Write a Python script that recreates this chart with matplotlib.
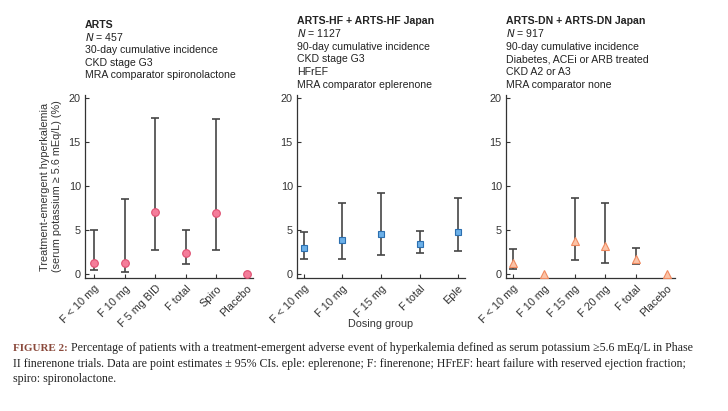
import matplotlib.pyplot as plt
import numpy as np

plt.rcParams['font.family'] = ['Liberation Sans', 'DejaVu Sans']

# ARTS
arts_labels = ['F < 10 mg', 'F 10 mg', 'F 5 mg BID', 'F total', 'Spiro', 'Placebo']
arts_val = [1.3, 1.3, 7.05, 2.45, 7.0, 0.05]
arts_lo = [0.45, 0.26, 2.8, 1.2, 2.75, None]
arts_hi = [5.05, 8.55, 17.75, 5.05, 17.55, None]

# ARTS-HF
hf_labels = ['F < 10 mg', 'F 10 mg', 'F 15 mg', 'F total', 'Eple']
hf_val = [2.95, 3.85, 4.55, 3.5, 4.78]
hf_lo = [1.75, 1.75, 2.2, 2.4, 2.6]
hf_hi = [4.85, 8.1, 9.2, 4.95, 8.6]

# ARTS-DN
dn_labels = ['F < 10 mg', 'F 10 mg', 'F 15 mg', 'F 20 mg', 'F total', 'Placebo']
dn_val = [1.25, 0.05, 3.75, 3.2, 1.8, 0.05]
dn_lo = [0.64, None, 1.6, 1.28, 1.13, None]
dn_hi = [2.9, None, 8.68, 8.1, 3.02, None]

headers = [
    ('ARTS', ['$\\it{N}$ = 457', '30-day cumulative incidence', 'CKD stage G3',
              'MRA comparator spironolactone']),
    ('ARTS-HF + ARTS-HF Japan', ['$\\it{N}$ = 1127', '90-day cumulative incidence',
                                 'CKD stage G3', 'HFrEF', 'MRA comparator eplerenone']),
    ('ARTS-DN + ARTS-DN Japan', ['$\\it{N}$ = 917', '90-day cumulative incidence',
                                 'Diabetes, ACEi or ARB treated', 'CKD A2 or A3',
                                 'MRA comparator none']),
]

fig = plt.figure(figsize=(7.28, 4.11), dpi=100)
W, H = 728, 411

panels = [
    (arts_labels, arts_val, arts_lo, arts_hi, 'o', '#f47d9a', '#de4f70', 5.5, (85, 253), (-0.3, 5.2), 28),
    (hf_labels, hf_val, hf_lo, hf_hi, 's', '#6cb0e8', '#2c6fb0', 5, (297, 465), (-0.18, 4.18), 24.5),
    (dn_labels, dn_val, dn_lo, dn_hi, '^', '#fbc4a8', '#f08a60', 6, (506, 675), (-0.23, 5.26), 24.5),
]

for i, (labels, val, lo, hi, mk, fc, ec, ms, (x0, x1), xl, ty) in enumerate(panels):
    ax = fig.add_axes([x0 / W, 1 - 278 / H, (x1 - x0) / W, (278 - 95) / H])
    x = np.arange(len(labels))
    for j in range(len(labels)):
        if lo[j] is not None:
            ax.errorbar(x[j], val[j], yerr=[[val[j] - lo[j]], [hi[j] - val[j]]],
                        fmt='none', ecolor='#454545', elinewidth=1.2,
                        capsize=2.6, capthick=1.2, zorder=2)
    ax.plot(x, val, mk, ms=ms, mfc=fc, mec=ec, mew=0.8, ls='none', zorder=3,
            clip_on=False)
    ax.set_xlim(*xl)
    ax.set_ylim(-0.4, 20.3)
    ax.set_yticks([0, 5, 10, 15, 20])
    ax.set_xticks(x)
    ax.set_xticklabels(labels, rotation=45, ha='right', rotation_mode='anchor')
    ax.tick_params(direction='in', length=3, width=0.8, labelsize=7.8,
                   colors='#333333', pad=3)
    ax.tick_params(axis='x', pad=4)
    for s in ['top', 'right']:
        ax.spines[s].set_visible(False)
    for s in ['left', 'bottom']:
        ax.spines[s].set_color('#333333')
        ax.spines[s].set_linewidth(0.9)
    if i == 0:
        ax.set_ylabel('Treatment-emergent hyperkalemia\n(serum potassium \u2265 5.6 mEq/L) (%)',
                      fontsize=7.8, color='#333333', labelpad=5, linespacing=1.25)
    title, lines = headers[i]
    fig.text(x0 / W, 1 - ty / H, title, fontsize=7.6, fontweight='bold',
             color='#222222', va='baseline', ha='left')
    for k, ln in enumerate(lines):
        fig.text(x0 / W, 1 - (ty + 12.6 * (k + 1)) / H, ln, fontsize=7.6,
                 color='#222222', va='baseline', ha='left')

fig.text(381 / W, 1 - 324 / H, 'Dosing group', fontsize=7.8, color='#333333',
         ha='center', va='center')

cap_font = ['Liberation Serif', 'DejaVu Serif']
fs = 8.6
fig.text(13 / W, 1 - 348 / H, 'FIGURE 2:', fontsize=7.9, family=cap_font,
         color='#8b4a3c', fontweight='bold', va='center', ha='left')
cap1 = ('Percentage of patients with a treatment-emergent adverse event of hyperkalemia '
        'defined as serum potassium \u22655.6 mEq/L in Phase')
cap2 = ('II finerenone trials. Data are point estimates \u00b1 95% CIs. eple: eplerenone; '
        'F: finerenone; HFrEF: heart failure with reserved ejection fraction;')
cap3 = 'spiro: spironolactone.'
fig.text(71 / W, 1 - 348 / H, cap1, fontsize=fs, family=cap_font, color='#222222',
         va='center', ha='left')
fig.text(13 / W, 1 - 363.5 / H, cap2, fontsize=fs, family=cap_font, color='#222222',
         va='center', ha='left')
fig.text(13 / W, 1 - 379 / H, cap3, fontsize=fs, family=cap_font, color='#222222',
         va='center', ha='left')

fig.savefig('out.png', dpi=100)
